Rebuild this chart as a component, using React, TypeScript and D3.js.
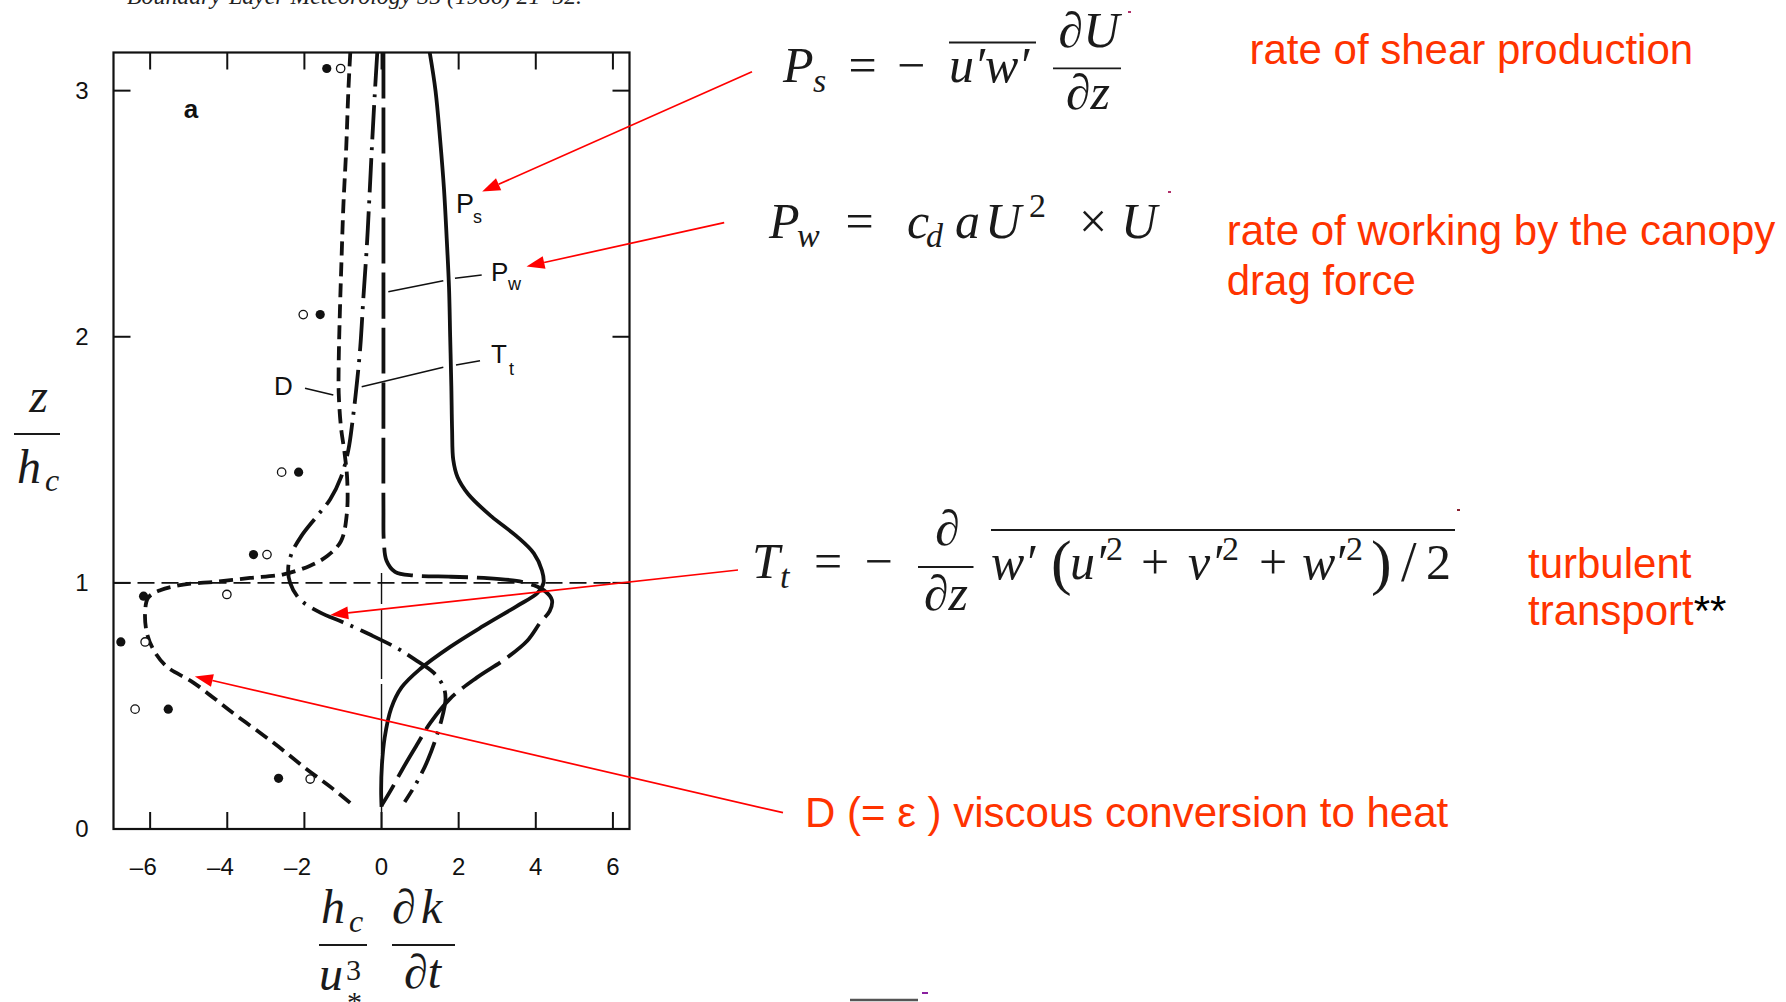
import React, { useEffect } from "react";
import * as d3 from "d3";

type Pt = [number, number];

// Profiles of the TKE budget terms: [ (h_c/u*^3) dk/dt , z/h_c ]
const shearProduction: Pt[] = [
  [1.25, 3.155], [1.4, 3.0], [1.52, 2.8], [1.62, 2.6], [1.69, 2.4], [1.75, 2.2],
  [1.78, 2.0], [1.81, 1.8], [1.83, 1.62], [1.86, 1.5], [1.97, 1.43], [2.25, 1.36],
  [2.85, 1.27], [3.5, 1.19], [3.95, 1.12], [4.16, 1.05], [4.2, 1.0], [4.05, 0.96],
  [3.5, 0.905], [2.64, 0.825], [1.78, 0.74], [1.0, 0.65], [0.52, 0.575], [0.25, 0.49],
  [0.08, 0.37], [0.01, 0.26], [-0.01, 0.16], [0.0, 0.09],
];

const wakeProduction: Pt[] = [
  [0.05, 3.155], [0.05, 2.5], [0.05, 1.8], [0.05, 1.3], [0.06, 1.17], [0.13, 1.09],
  [0.35, 1.045], [0.85, 1.03], [1.8, 1.025], [2.65, 1.02], [3.5, 1.008], [3.95, 0.99],
  [4.25, 0.965], [4.42, 0.93], [4.36, 0.885], [4.12, 0.84], [3.78, 0.765], [3.2, 0.69],
  [2.47, 0.615], [1.78, 0.53], [1.26, 0.43], [0.91, 0.34], [0.55, 0.245], [0.25, 0.16],
  [0.0, 0.095],
];

const turbulentTransport: Pt[] = [
  [-0.11, 3.155], [-0.17, 3.0], [-0.24, 2.8], [-0.31, 2.58], [-0.38, 2.37], [-0.47, 2.16],
  [-0.55, 1.96], [-0.64, 1.81], [-0.75, 1.66], [-0.86, 1.54], [-1.05, 1.43], [-1.33, 1.34],
  [-1.68, 1.27], [-2.08, 1.19], [-2.33, 1.12], [-2.42, 1.06], [-2.37, 1.0], [-2.13, 0.935],
  [-1.6, 0.88], [-1.0, 0.84], [-0.3, 0.79], [0.4, 0.735], [0.85, 0.69], [1.35, 0.635],
  [1.6, 0.58], [1.66, 0.53], [1.55, 0.44], [1.2, 0.28], [0.88, 0.18], [0.6, 0.11],
];

const dissipation: Pt[] = [
  [-0.81, 3.155], [-0.86, 3.0], [-0.92, 2.75], [-0.99, 2.53], [-1.04, 2.3], [-1.08, 2.1],
  [-1.11, 1.9], [-1.11, 1.77], [-1.05, 1.63], [-0.96, 1.53], [-0.89, 1.42], [-0.9, 1.28],
  [-1.05, 1.17], [-1.4, 1.11], [-1.85, 1.07], [-2.54, 1.035], [-3.41, 1.02], [-4.27, 1.005],
  [-5.14, 0.993], [-5.74, 0.97], [-6.05, 0.94], [-6.13, 0.88], [-6.09, 0.8], [-5.92, 0.73],
  [-5.57, 0.66], [-4.88, 0.595], [-3.84, 0.47], [-2.8, 0.35], [-1.94, 0.243], [-1.25, 0.162],
  [-0.73, 0.095],
];

// Measured dissipation estimates (two methods)
const measuredFilled: Pt[] = [
  [-1.42, 3.09], [-1.59, 2.09], [-2.15, 1.45], [-3.32, 1.115],
  [-6.17, 0.946], [-6.76, 0.76], [-5.53, 0.487], [-2.67, 0.206],
];
const measuredOpen: Pt[] = [
  [-1.06, 3.09], [-2.03, 2.09], [-2.59, 1.45], [-2.97, 1.115],
  [-4.01, 0.953], [-6.13, 0.76], [-6.39, 0.487], [-1.85, 0.203],
];

const xTicks = [-6, -4, -2, 0, 2, 4, 6];
const yTicks = [0, 1, 2, 3];
const yFrameTicks = [1, 2, 3];

const SANS = "'Liberation Sans', Arial, Helvetica, sans-serif";
const SERIF = "'Liberation Serif', 'Times New Roman', 'DejaVu Serif', serif";
const RED_TEXT = "#ff3300";
const RED_LINE = "#ff0000";
const INK = "#111";

const x = d3.scaleLinear().domain([-6.95, 6.43]).range([113.5, 629.5]);
const y = d3.scaleLinear().domain([0, 3.155]).range([829, 52.5]);

const line = d3
  .line<Pt>()
  .x((d) => x(d[0]))
  .y((d) => y(d[1]))
  .curve(d3.curveCatmullRom.alpha(0.5));

function Arrow({ x1, y1, x2, y2 }: { x1: number; y1: number; x2: number; y2: number }) {
  const len = 18;
  const hw = 6.5;
  const dx = x2 - x1;
  const dy = y2 - y1;
  const L = Math.hypot(dx, dy);
  const ux = dx / L;
  const uy = dy / L;
  const bx = x2 - ux * len;
  const by = y2 - uy * len;
  const px = -uy;
  const py = ux;
  return (
    <g>
      <line x1={x1} y1={y1} x2={bx} y2={by} stroke={RED_LINE} strokeWidth={1.7} />
      <polygon
        points={`${x2},${y2} ${bx + px * hw},${by + py * hw} ${bx - px * hw},${by - py * hw}`}
        fill={RED_LINE}
      />
    </g>
  );
}

function M({
  x: px,
  y: py,
  s = 50,
  it = true,
  anchor = "start",
  children,
}: {
  x: number;
  y: number;
  s?: number;
  it?: boolean;
  anchor?: "start" | "middle" | "end";
  children: React.ReactNode;
}) {
  return (
    <text
      x={px}
      y={py}
      fontFamily={SERIF}
      fontSize={s}
      fontStyle={it ? "italic" : "normal"}
      textAnchor={anchor}
      fill="#1a1a1a"
    >
      {children}
    </text>
  );
}

function Bar({ x1, x2, yy, w = 1.8 }: { x1: number; x2: number; yy: number; w?: number }) {
  return <line x1={x1} x2={x2} y1={yy} y2={yy} stroke="#1a1a1a" strokeWidth={w} />;
}

export default function App() {
  useEffect(() => {
    document.body.style.margin = "0";
    document.body.style.overflow = "hidden";
  }, []);

  const [x0, x1] = x.range();
  const [yBottom, yTop] = y.range();
  const tickLen = 17;

  const curveStyle = { fill: "none", stroke: INK, strokeWidth: 3.8 } as const;

  return (
    <svg
      width={1786}
      height={1002}
      viewBox="0 0 1786 1002"
      style={{ display: "block", background: "#fff" }}
    >
      <rect x={0} y={0} width={1786} height={1002} fill="#fff" />

      {/* journal citation, clipped at the top edge */}
      <text
        x={127}
        y={4}
        fontFamily={SERIF}
        fontStyle="italic"
        fontSize={24}
        textLength={455}
        lengthAdjust="spacingAndGlyphs"
        fill="#222"
      >
        Boundary-Layer Meteorology 35 (1986) 21–52.
      </text>

      {/* ---------- plot panel ---------- */}
      <g>
        {/* reference lines: canopy top and zero */}
        <line
          x1={x0}
          x2={x1}
          y1={y(1)}
          y2={y(1)}
          stroke={INK}
          strokeWidth={1.6}
          strokeDasharray="17 7"
        />
        <line
          x1={x(0)}
          x2={x(0)}
          y1={y(0)}
          y2={y(1.04)}
          stroke={INK}
          strokeWidth={1.4}
          strokeDasharray="70 5"
        />

        {/* frame */}
        <rect
          x={x0}
          y={yTop}
          width={x1 - x0}
          height={yBottom - yTop}
          fill="none"
          stroke={INK}
          strokeWidth={2.2}
        />
        {xTicks.map((t) => (
          <g key={`xt${t}`}>
            <line x1={x(t)} x2={x(t)} y1={yBottom} y2={yBottom - tickLen} stroke={INK} strokeWidth={2} />
            <line x1={x(t)} x2={x(t)} y1={yTop} y2={yTop + tickLen} stroke={INK} strokeWidth={2} />
          </g>
        ))}
        {yFrameTicks.map((t) => (
          <g key={`yt${t}`}>
            <line x1={x0} x2={x0 + tickLen} y1={y(t)} y2={y(t)} stroke={INK} strokeWidth={2} />
            <line x1={x1} x2={x1 - tickLen} y1={y(t)} y2={y(t)} stroke={INK} strokeWidth={2} />
          </g>
        ))}

        {/* tick labels */}
        {xTicks.map((t) => (
          <g key={`xl${t}`} fontFamily={SANS} fontSize={24} fill={INK}>
            <text x={x(t)} y={875} textAnchor="middle">
              {Math.abs(t)}
            </text>
            {t < 0 && (
              <text x={x(t) - 7} y={875} textAnchor="end">
                –
              </text>
            )}
          </g>
        ))}
        {yTicks.map((t) => (
          <text
            key={`yl${t}`}
            x={82}
            y={y(t) + 8}
            textAnchor="middle"
            fontFamily={SANS}
            fontSize={24}
            fill={INK}
          >
            {t}
          </text>
        ))}

        {/* budget profiles */}
        <path d={line(dissipation) ?? ""} {...curveStyle} strokeDasharray="14 7" />
        <path d={line(turbulentTransport) ?? ""} {...curveStyle} strokeDasharray="34 8 3 8" />
        <path d={line(wakeProduction) ?? ""} {...curveStyle} strokeDasharray="46 9" />
        <path d={line(shearProduction) ?? ""} {...curveStyle} />

        {/* measurements */}
        {measuredFilled.map((d, i) => (
          <circle key={`f${i}`} cx={x(d[0])} cy={y(d[1])} r={4.6} fill={INK} />
        ))}
        {measuredOpen.map((d, i) => (
          <circle
            key={`o${i}`}
            cx={x(d[0])}
            cy={y(d[1])}
            r={4.2}
            fill="#fff"
            stroke={INK}
            strokeWidth={1.3}
          />
        ))}

        {/* panel letter */}
        <text x={191} y={118} textAnchor="middle" fontFamily={SANS} fontWeight="bold" fontSize={26} fill={INK}>
          a
        </text>

        {/* curve labels with leaders */}
        <g fontFamily={SANS} fill={INK}>
          <text x={456} y={213} fontSize={27}>P</text>
          <text x={473} y={223} fontSize={18}>s</text>
          <text x={491} y={281} fontSize={26}>P</text>
          <text x={508} y={290} fontSize={18}>w</text>
          <text x={491} y={363} fontSize={26}>T</text>
          <text x={509} y={375} fontSize={18}>t</text>
          <text x={274} y={395} fontSize={26}>D</text>
        </g>
        <g stroke={INK} strokeWidth={1.6}>
          <line x1={481.7} y1={275} x2={455} y2={278.3} />
          <line x1={443.3} y1={280.7} x2={388.3} y2={291.7} />
          <line x1={480} y1={360.7} x2={456} y2={365} />
          <line x1={443.3} y1={367.3} x2={361.7} y2={386.7} />
          <line x1={305} y1={388.3} x2={333.3} y2={395} />
        </g>
      </g>

      {/* axis titles */}
      <g>
        <M x={38.5} y={411.7} s={48} anchor="middle">z</M>
        <Bar x1={14} x2={60} yy={434} />
        <M x={17} y={483} s={48}>h</M>
        <M x={45} y={491} s={32}>c</M>

        <M x={321} y={923} s={48}>h</M>
        <M x={349} y={932} s={32}>c</M>
        <Bar x1={319} x2={367} yy={945} />
        <M x={319} y={990} s={48}>u</M>
        <M x={346} y={980} s={30} it={false}>3</M>
        <M x={347} y={1012} s={30} it={false}>*</M>
        <M x={392} y={923} s={48}>∂</M>
        <M x={421} y={923} s={48}>k</M>
        <Bar x1={392} x2={455} yy={945} />
        <M x={422.5} y={988} s={48} anchor="middle">∂t</M>
      </g>

      {/* ---------- equations ---------- */}
      {/* shear production */}
      <g>
        <M x={783} y={82}>P</M>
        <M x={813} y={92} s={34}>s</M>
        <M x={862.5} y={82} it={false} anchor="middle">=</M>
        <M x={911} y={82} it={false} anchor="middle">−</M>
        <M x={949} y={82}>u′w′</M>
        <Bar x1={949} x2={1036} yy={42.5} />
        <M x={1089} y={46.5} anchor="middle">∂U</M>
        <Bar x1={1053} x2={1121} yy={68.3} />
        <M x={1088} y={109} anchor="middle">∂z</M>
        <rect x={1128} y={11} width={3} height={2} fill="#b0306a" />
      </g>

      {/* wake production */}
      <g>
        <M x={769} y={238}>P</M>
        <M x={797} y={247} s={34}>w</M>
        <M x={859.5} y={238} it={false} anchor="middle">=</M>
        <M x={907} y={238}>c</M>
        <M x={926} y={247} s={34}>d</M>
        <M x={955} y={238}>a</M>
        <M x={985} y={238}>U</M>
        <M x={1029} y={217} s={34} it={false}>2</M>
        <M x={1093} y={238} it={false} anchor="middle">×</M>
        <M x={1121} y={238}>U</M>
        <rect x={1168} y={191} width={3} height={2} fill="#b0306a" />
      </g>

      {/* turbulent transport */}
      <g>
        <M x={752} y={578}>T</M>
        <M x={780} y={588} s={34}>t</M>
        <M x={828} y={578} it={false} anchor="middle">=</M>
        <M x={878.5} y={578} it={false} anchor="middle">−</M>
        <M x={947.5} y={545} anchor="middle">∂</M>
        <Bar x1={918} x2={973.5} yy={567} />
        <M x={946} y={610} anchor="middle">∂z</M>
        <Bar x1={991} x2={1455} yy={530} w={2} />
        <M x={991} y={579}>w′</M>
        <M x={1051} y={583} s={62} it={false}>(</M>
        <M x={1070} y={579}>u</M>
        <M x={1095} y={579}>′</M>
        <M x={1106} y={560} s={34} it={false}>2</M>
        <M x={1155} y={579} it={false} anchor="middle">+</M>
        <M x={1188} y={579}>v</M>
        <M x={1211} y={579}>′</M>
        <M x={1222} y={560} s={34} it={false}>2</M>
        <M x={1273} y={579} it={false} anchor="middle">+</M>
        <M x={1302} y={579}>w</M>
        <M x={1334} y={579}>′</M>
        <M x={1346} y={560} s={34} it={false}>2</M>
        <M x={1371} y={583} s={62} it={false}>)</M>
        <M x={1401} y={581} s={56} it={false}>/</M>
        <M x={1426} y={579} it={false}>2</M>
        <rect x={1457} y={509} width={3} height={2} fill="#8a2030" />
      </g>

      {/* stray equation-object bar at the foot */}
      <line x1={850} x2={918} y1={1000} y2={1000} stroke="#555" strokeWidth={2.5} />
      <rect x={922} y={992} width={6} height={2} fill="#8a20a0" />

      {/* ---------- annotations ---------- */}
      <g fontFamily={SANS} fontSize={42} fill={RED_TEXT}>
        <text x={1249.5} y={64}>rate of shear production</text>
        <text x={1226.7} y={245}>rate of working by the canopy</text>
        <text x={1226.7} y={295}>drag force</text>
        <text x={1528} y={578}>turbulent</text>
        <text x={1528} y={625}>
          transport<tspan fill="#000">**</tspan>
        </text>
        <text x={805} y={827}>D (= ε ) viscous conversion to heat</text>
      </g>

      <Arrow x1={752} y1={71.7} x2={x(2.61)} y2={y(2.59)} />
      <Arrow x1={724.2} y1={222.7} x2={x(3.76)} y2={y(2.286)} />
      <Arrow x1={738} y1={570} x2={x(-1.33)} y2={y(0.87)} />
      <Arrow x1={783} y1={812.7} x2={x(-4.84)} y2={y(0.62)} />
    </svg>
  );
}
